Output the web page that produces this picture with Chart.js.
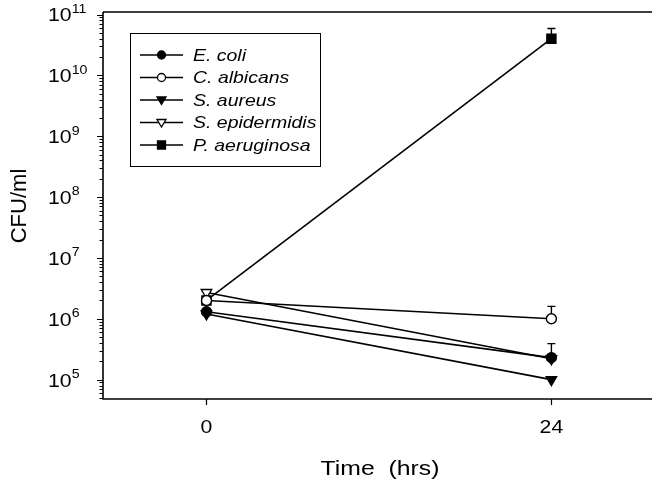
<!DOCTYPE html>
<html>
<head>
<meta charset="utf-8">
<script src="https://cdn.jsdelivr.net/npm/chart.js@4/dist/chart.umd.min.js"></script>
<style>
  html, body { margin: 0; padding: 0; background: #fff; }
  #wrap { width: 652px; height: 482px; }
</style>
</head>
<body>
<div id="wrap"><canvas id="cfuChart" width="652" height="482"></canvas></div>
<script>
// --- DATA ---
const times = [0, 24];
const xTicks = [0, 24];
const yDecades = [5, 6, 7, 8, 9, 10, 11];

const ecoli = [1.3e6, 2.3e5];
const calbicans = [2.0e6, 1.0e6];
const saureus = [1.2e6, 1.0e5];
const sepidermidis = [2.7e6, 2.2e5];
const paeruginosa = [2.0e6, 4.0e10];

// upper ends of the error bars (null = none visible)
const ecoliErr = [null, 3.9e5];
const calbicansErr = [null, 1.6e6];
const saureusErr = [null, null];
const sepidermidisErr = [null, null];
const paeruginosaErr = [null, 5.9e10];

const seriesNames = ["E. coli", "C. albicans", "S. aureus", "S. epidermidis", "P. aeruginosa"];

const FONT = "'Liberation Sans', Arial, sans-serif";
const STRETCH = 1.18; // the scanned figure's text is a bit wide

function makeSet(name, values, errs, style, fill, radius, rot) {
  return {
    label: name,
    data: values.map((v, i) => ({ x: times[i], y: v })),
    errs: errs,
    borderColor: "#000",
    borderWidth: 1.6,
    pointStyle: style,
    pointRotation: rot || 0,
    pointRadius: radius,
    pointHoverRadius: radius,
    pointBackgroundColor: fill,
    pointBorderColor: "#000",
    pointBorderWidth: 1.4,
    tension: 0,
    fill: false,
  };
}

const datasets = [
  makeSet(seriesNames[0], ecoli, ecoliErr, "circle", "#000", 5),
  makeSet(seriesNames[1], calbicans, calbicansErr, "circle", "#fff", 5),
  makeSet(seriesNames[2], saureus, saureusErr, "triangle", "#000", 6, 180),
  makeSet(seriesNames[3], sepidermidis, sepidermidisErr, "triangle", "#fff", 6, 180),
  makeSet(seriesNames[4], paeruginosa, paeruginosaErr, "rect", "#000", 6.4),
];

// --- ERROR BARS (upper only, with cap) ---
const errorBars = {
  id: "errorBars",
  beforeDatasetsDraw(chart) {
    const ctx = chart.ctx;
    const xs = chart.scales.x, ys = chart.scales.y;
    ctx.save();
    ctx.strokeStyle = "#000";
    ctx.lineWidth = 1.4;
    chart.data.datasets.forEach(ds => {
      ds.errs.forEach((e, i) => {
        if (e == null) return;
        const px = xs.getPixelForValue(ds.data[i].x);
        const y1 = ys.getPixelForValue(ds.data[i].y);
        const y2 = ys.getPixelForValue(e);
        ctx.beginPath();
        ctx.moveTo(px, y1);
        ctx.lineTo(px, y2);
        ctx.moveTo(px - 4, y2);
        ctx.lineTo(px + 4, y2);
        ctx.stroke();
      });
    });
    ctx.restore();
  },
};

// text drawn with a slight horizontal stretch, x is the anchor point
function wideText(ctx, text, x, y, font, align) {
  ctx.save();
  ctx.font = font;
  ctx.textAlign = align;
  ctx.translate(x, y);
  ctx.scale(STRETCH, 1);
  ctx.fillText(text, 0, 0);
  ctx.restore();
}

function legendMarker(ctx, i, x, y) {
  ctx.beginPath();
  if (i === 0 || i === 1) {
    ctx.arc(x, y, 4, 0, Math.PI * 2);
  } else if (i === 2 || i === 3) {
    ctx.moveTo(x - 4.5, y - 3);
    ctx.lineTo(x + 4.5, y - 3);
    ctx.lineTo(x, y + 4.5);
    ctx.closePath();
  } else {
    ctx.rect(x - 4, y - 4, 8, 8);
  }
  ctx.fillStyle = (i === 1 || i === 3) ? "#fff" : "#000";
  ctx.fill();
  ctx.stroke();
}

// --- AXES, TICKS, TITLES, LEGEND ---
const frame = {
  id: "frame",
  afterDraw(chart) {
    const ctx = chart.ctx;
    const a = chart.chartArea;
    const xs = chart.scales.x, ys = chart.scales.y;
    ctx.save();
    ctx.strokeStyle = "#000";
    ctx.fillStyle = "#000";
    ctx.lineWidth = 1.6;

    // frame lines: left, bottom, top
    ctx.beginPath();
    ctx.moveTo(a.left, a.top);
    ctx.lineTo(a.right, a.top);
    ctx.moveTo(a.left, a.top);
    ctx.lineTo(a.left, a.bottom);
    ctx.lineTo(a.right, a.bottom);
    ctx.stroke();

    // y ticks: majors and minors, pointing outward
    ctx.lineWidth = 1;
    ctx.beginPath();
    for (let d = 4; d <= 11; d++) {
      for (let m = 1; m <= 9; m++) {
        const v = m * Math.pow(10, d);
        if (v < ys.min || v > ys.max) continue;
        const py = Math.round(ys.getPixelForValue(v)) + 0.5;
        const len = m === 1 ? 6 : 3.5;
        ctx.moveTo(a.left - len, py);
        ctx.lineTo(a.left, py);
      }
    }
    ctx.stroke();

    // y tick labels 10^n
    ctx.textBaseline = "middle";
    yDecades.forEach(n => {
      const py = ys.getPixelForValue(Math.pow(10, n));
      ctx.font = "18px " + FONT;
      const w = ctx.measureText("10").width * STRETCH;
      wideText(ctx, "10", 48, py + 2, "18px " + FONT, "left");
      wideText(ctx, String(n), 48 + w, py - 5, "12px " + FONT, "left");
    });

    // x ticks and labels
    ctx.lineWidth = 1.2;
    ctx.beginPath();
    xTicks.forEach(t => {
      const px = Math.round(xs.getPixelForValue(t)) + 0.5;
      ctx.moveTo(px, a.bottom);
      ctx.lineTo(px, a.bottom + 6);
    });
    ctx.stroke();
    xTicks.forEach(t => {
      wideText(ctx, String(t), xs.getPixelForValue(t), 428, "18px " + FONT, "center");
    });

    // axis titles
    wideText(ctx, "Time  (hrs)", 380, 469, "21px " + FONT, "center");
    ctx.save();
    ctx.translate(20, 206);
    ctx.rotate(-Math.PI / 2);
    ctx.font = "22px " + FONT;
    ctx.textAlign = "center";
    ctx.fillText("CFU/ml", 0, 0);
    ctx.restore();

    // legend
    ctx.lineWidth = 1;
    ctx.strokeRect(130.5, 33.5, 190, 133);
    seriesNames.forEach((name, i) => {
      const ly = 55 + i * 22.5;
      ctx.lineWidth = 1.3;
      ctx.beginPath();
      ctx.moveTo(140, ly);
      ctx.lineTo(183, ly);
      ctx.stroke();
      legendMarker(ctx, i, 161.5, ly);
      ctx.fillStyle = "#000";
      wideText(ctx, name, 193, ly + 1, "italic 16.5px " + FONT, "left");
    });
    ctx.restore();
  },
};

const ctx = document.getElementById("cfuChart").getContext("2d");
const cfuChart = new Chart(ctx, {
  type: "line",
  data: { datasets: datasets },
  options: {
    responsive: false,
    animation: false,
    layout: { autoPadding: false, padding: { left: 103, top: 12, right: 0, bottom: 83 } },
    plugins: { legend: { display: false }, tooltip: { enabled: false } },
    scales: {
      x: { type: "linear", min: -7.2, max: 31, display: false },
      y: { type: "logarithmic", min: 4.8e4, max: 1.1e11, display: false },
    },
  },
  plugins: [errorBars, frame],
});
</script>
</body>
</html>
